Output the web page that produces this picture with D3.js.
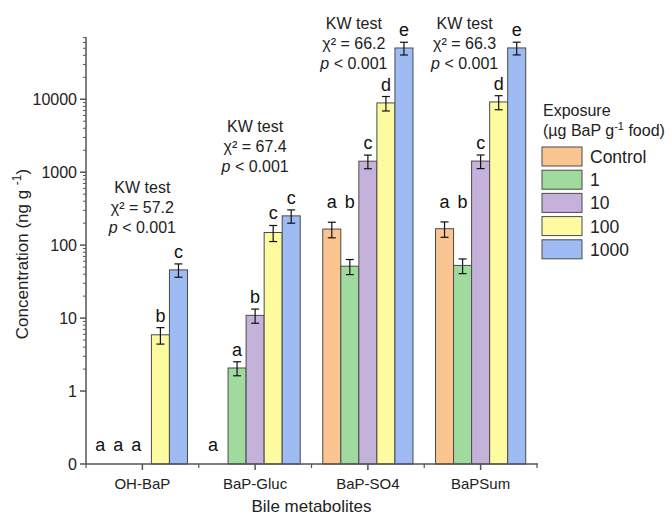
<!DOCTYPE html>
<html>
<head>
<meta charset="utf-8">
<script src="https://cdn.jsdelivr.net/npm/d3@7"></script>
<style>
  body { margin: 0; background: #fff; }
  svg { font-family: Arial, "Liberation Sans", sans-serif; }
</style>
</head>
<body>
<svg id="chart" width="671" height="519"></svg>
<script>
"use strict";

// Données
var categories = ["OH-BaP", "BaP-Gluc", "BaP-SO4", "BaPSum"];
var exposures = ["Control", "1", "10", "100", "1000"];
var colors = ["#fbc592", "#a0da9f", "#c4b2da", "#fdfaa0", "#9ebcf3"];

var ohBaP = [0, 0, 0, 5.9, 45.8];
var ohBaPErr = [0, 0, 0, 1.5, 9.5];
var bapGluc = [0, 2.07, 10.9, 149, 252];
var bapGlucErr = [0, 0.45, 2.4, 37, 52];
var bapSO4 = [166, 51.5, 1415, 8900, 50400];
var bapSO4Err = [40, 12, 300, 2000, 10000];
var bapSum = [168, 52.7, 1420, 9180, 50500];
var bapSumErr = [40, 12, 300, 2000, 10000];

var letters = [
  ["a", "a", "a", "b", "c"],
  ["a", "a", "b", "c", "c"],
  ["a", "b", "c", "d", "e"],
  ["a", "b", "c", "d", "e"]
];
var kwChi = ["57.2", "67.4", "66.2", "66.3"];
var yTickValues = [0.1, 1, 10, 100, 1000, 10000];
var yTickLabels = ["0", "1", "10", "100", "1000", "10000"];

var means = [ohBaP, bapGluc, bapSO4, bapSum];
var errs = [ohBaPErr, bapGlucErr, bapSO4Err, bapSumErr];

// Position des textes KW (décalage x, ligne de base de la première ligne)
var kwLayout = [{dx: 0, y: 193}, {dx: 0, y: 132}, {dx: -14, y: 29}, {dx: -16, y: 29}];

var svg = d3.select("#chart");
var plotLeft = 86, plotRight = 537, plotTop = 37, plotBottom = 464;

var x0 = d3.scaleBand().domain(categories).range([plotLeft, plotRight]).padding(0);
var bw = x0.bandwidth();
var x1 = d3.scaleBand().domain(exposures).range([bw * 0.1, bw * 0.9]).padding(0);
var y = d3.scaleLog().domain([0.1, 71300]).range([plotBottom, plotTop]);

// Construction des données des barres
var bars = [];
categories.forEach(function (c, i) {
  exposures.forEach(function (e, j) {
    bars.push({cat: c, exp: e, i: i, j: j, v: means[i][j], err: errs[i][j],
      letter: letters[i][j], color: colors[j]});
  });
});

var g = svg.append("g");

g.selectAll("rect.bar")
  .data(bars.filter(function (d) { return d.v > 0; }))
  .enter()
  .append("rect")
  .attr("class", "bar")
  .attr("x", function (d) { return x0(d.cat) + x1(d.exp); })
  .attr("width", x1.bandwidth())
  .attr("y", function (d) { return y(d.v); })
  .attr("height", function (d) { return y(0.1) - y(d.v); })
  .attr("fill", function (d) { return d.color; })
  .attr("stroke", "#4a4a4a")
  .attr("stroke-width", 1);

// Barres d'erreur
var eb = g.selectAll("g.err")
  .data(bars.filter(function (d) { return d.v > 0; }))
  .enter()
  .append("g")
  .attr("stroke", "#111")
  .attr("stroke-width", 1.2);

function cx(d) { return x0(d.cat) + x1(d.exp) + x1.bandwidth() / 2; }

eb.append("line")
  .attr("x1", cx).attr("x2", cx)
  .attr("y1", function (d) { return y(d.v + d.err); })
  .attr("y2", function (d) { return y(d.v - d.err); });
eb.append("line")
  .attr("x1", function (d) { return cx(d) - 4; }).attr("x2", function (d) { return cx(d) + 4; })
  .attr("y1", function (d) { return y(d.v + d.err); })
  .attr("y2", function (d) { return y(d.v + d.err); });
eb.append("line")
  .attr("x1", function (d) { return cx(d) - 4; }).attr("x2", function (d) { return cx(d) + 4; })
  .attr("y1", function (d) { return y(d.v - d.err); })
  .attr("y2", function (d) { return y(d.v - d.err); });

// Lettres de significativité (si la barre voisine de gauche est plus haute,
// la lettre est alignée sur celle-ci, un peu plus haut)
function letterY(d) {
  if (d.v <= 0) return y(0.1) - 13;
  var topVal = d.v + d.err;
  var shift = 6;
  if (d.j > 0) {
    var p = means[d.i][d.j - 1] + errs[d.i][d.j - 1];
    if (means[d.i][d.j - 1] > 0 && p > topVal) { topVal = p; shift = 14; }
  }
  if (d.j < exposures.length - 1) {
    var n = means[d.i][d.j + 1];
    if (d.j === 0 && n > 0 && n < d.v) shift = 14;
  }
  return y(topVal) - shift;
}

g.selectAll("text.letter")
  .data(bars)
  .enter()
  .append("text")
  .attr("class", "letter")
  .attr("x", function (d) { return cx(d) - (d.v > 0 ? 0 : 6); })
  .attr("y", letterY)
  .attr("text-anchor", "middle")
  .style("font-size", "18px")
  .attr("fill", "#111")
  .text(function (d) { return d.letter; });

// Textes KW
categories.forEach(function (c, i) {
  var xc = x0(c) + bw / 2 + kwLayout[i].dx;
  var t = g.append("g").attr("text-anchor", "middle").style("font-size", "16px").attr("fill", "#222");
  t.append("text").attr("x", xc).attr("y", kwLayout[i].y).text("KW test");
  t.append("text").attr("x", xc).attr("y", kwLayout[i].y + 20).text("\u03c7\u00b2 = " + kwChi[i]);
  var p = t.append("text").attr("x", xc).attr("y", kwLayout[i].y + 40);
  p.append("tspan").style("font-style", "italic").text("p");
  p.append("tspan").text(" < 0.001");
});

// Axe Y
var axisColor = "#555";
var yAxis = svg.append("g").attr("stroke", axisColor);
yAxis.append("line").attr("x1", plotLeft).attr("x2", plotLeft).attr("y1", plotTop).attr("y2", plotBottom)
  .attr("stroke-width", 1.5);

var minor = [];
for (var k = 0; k <= 4; k++) {
  for (var m = 2; m <= 9; m++) {
    var v = m * Math.pow(10, k);
    if (v <= 71300) minor.push(v);
  }
}
yAxis.selectAll("line.minor").data(minor).enter().append("line")
  .attr("x1", plotLeft - 3).attr("x2", plotLeft)
  .attr("y1", function (d) { return y(d); }).attr("y2", function (d) { return y(d); })
  .attr("stroke-width", 1);
yAxis.selectAll("line.major").data(yTickValues).enter().append("line")
  .attr("x1", plotLeft - 6).attr("x2", plotLeft)
  .attr("y1", function (d) { return y(d); }).attr("y2", function (d) { return y(d); })
  .attr("stroke-width", 1.5);
svg.selectAll("text.ytick").data(yTickValues).enter().append("text")
  .attr("x", plotLeft - 9)
  .attr("y", function (d) { return y(d) + 6; })
  .attr("text-anchor", "end")
  .style("font-size", "16px")
  .attr("fill", "#222")
  .text(function (d, i) { return yTickLabels[i]; });

var yTitle = svg.append("text")
  .attr("transform", "translate(28," + 254 + ") rotate(-90)")
  .attr("text-anchor", "middle")
  .style("font-size", "17px")
  .attr("fill", "#222");
yTitle.append("tspan").text("Concentration (ng g ");
yTitle.append("tspan").attr("dy", -7).style("font-size", "12px").text("-1");
yTitle.append("tspan").attr("dy", 7).text(")");

// Axe X
var xAxis = svg.append("g").attr("stroke", axisColor);
xAxis.append("line").attr("x1", plotLeft).attr("x2", plotRight + 1).attr("y1", plotBottom).attr("y2", plotBottom)
  .attr("stroke-width", 1.5);
var xMinor = categories.map(function (c) { return x0(c); }).concat([plotRight]);
xAxis.selectAll("line.xminor").data(xMinor).enter().append("line")
  .attr("x1", function (d) { return d; }).attr("x2", function (d) { return d; })
  .attr("y1", plotBottom).attr("y2", plotBottom + 4).attr("stroke-width", 1.2);
xAxis.selectAll("line.xmajor").data(categories).enter().append("line")
  .attr("x1", function (d) { return x0(d) + bw / 2; }).attr("x2", function (d) { return x0(d) + bw / 2; })
  .attr("y1", plotBottom).attr("y2", plotBottom + 6).attr("stroke-width", 1.5);
svg.selectAll("text.xtick").data(categories).enter().append("text")
  .attr("x", function (d) { return x0(d) + bw / 2; })
  .attr("y", plotBottom + 25)
  .attr("text-anchor", "middle")
  .style("font-size", "15px")
  .attr("fill", "#222")
  .text(function (d) { return d; });
svg.append("text")
  .attr("x", (plotLeft + plotRight) / 2).attr("y", 512)
  .attr("text-anchor", "middle")
  .style("font-size", "17px")
  .attr("fill", "#222")
  .text("Bile metabolites");

// Légende
var legend = svg.append("g").attr("transform", "translate(542,0)").attr("fill", "#222");
legend.append("text").attr("x", 1).attr("y", 116).style("font-size", "16px").text("Exposure");
var lt = legend.append("text").attr("x", 1).attr("y", 136).style("font-size", "16px");
lt.append("tspan").text("(\u00b5g BaP g");
lt.append("tspan").attr("dy", -6).style("font-size", "11px").text("-1");
lt.append("tspan").attr("dy", 6).text(" food)");

legend.selectAll("rect").data(exposures).enter().append("rect")
  .attr("x", 0).attr("y", function (d, i) { return 147 + i * 23.2; })
  .attr("width", 40).attr("height", 19)
  .attr("fill", function (d, i) { return colors[i]; })
  .attr("stroke", "#4a4a4a");
legend.selectAll("text.lab").data(exposures).enter().append("text")
  .attr("class", "lab")
  .attr("x", 48).attr("y", function (d, i) { return 163 + i * 23.2; })
  .style("font-size", "17.5px")
  .text(function (d) { return d; });
</script>
</body>
</html>
